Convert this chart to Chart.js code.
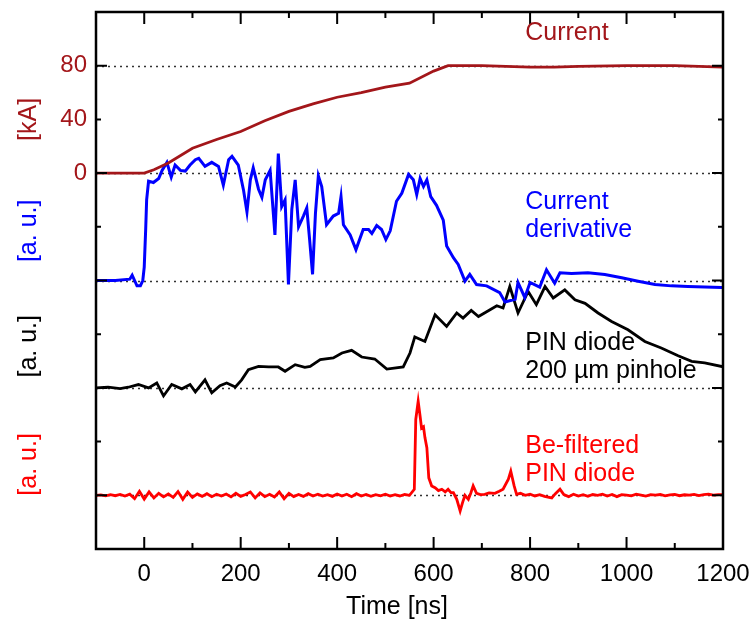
<!DOCTYPE html>
<html>
<head>
<meta charset="utf-8">
<script src="https://cdn.jsdelivr.net/npm/chart.js@4"></script>
<style>
  body { margin: 0; background: #fff; }
  #wrap { width: 755px; height: 628px; }
</style>
</head>
<body>
<div id="wrap"><canvas id="chartTraces"></canvas></div>
<script>
/* Current [kA] */
const currentTime = [-100, 0, 20, 50, 100, 150, 200, 250, 300, 350, 400, 450, 500, 550, 600, 630, 700, 750, 800, 850, 900, 1000, 1100, 1150, 1200];
const currentKA = [0, 0, 2.5, 7.5, 18.5, 25, 31, 39, 46, 51.5, 56.5, 60, 64, 67, 76, 80, 80, 79.5, 79, 79, 79.5, 80, 80, 79.5, 79];

/* Current derivative [a. u.] */
const derivTime = [
  -100, -60, -30, -25, -20, -15, -8, -3, 0, 3,
  5, 9, 19, 30, 37, 47, 56, 64, 75, 85,
  95, 106, 113, 126, 140, 154, 164, 175, 182, 195,
  206, 213, 220, 226, 237, 244, 251, 261, 271, 278,
  285, 292, 299, 306, 313, 320, 330, 337, 343, 349,
  355, 361, 368, 378, 392, 403, 408, 413, 427, 439,
  454, 465, 472, 482, 492, 501, 510, 523, 534, 548,
  558, 565, 572, 579, 586, 594, 606, 620, 627, 641,
  651, 665, 675, 689, 710, 737, 748, 769, 775, 789,
  800, 820, 834, 851, 862, 886, 920, 955, 990, 1024,
  1059, 1093, 1127, 1197, 1200];
const derivAU = [
  0, 0, 1, 4, 0, -4, -4, 0, 10, 38,
  60, 74, 73, 76, 82, 88, 77, 86, 82, 81.5,
  86, 90, 91, 85, 88, 85, 71, 90, 92.5, 86,
  67, 51, 75, 84, 68, 62, 75, 82, 34, 94.5,
  55, 60, -3, 53, 75, 40, 48, 54, 30, 4.5,
  50, 78, 70, 41.5, 48, 50, 62.5, 41.5, 34, 23,
  38, 38, 35, 41, 38, 30.5, 37, 59, 65, 79,
  75, 64, 76, 70, 75, 62.5, 56, 45, 25.7, 17,
  12, -0.5, 4.5, -3, -4, -9, -16, -14, -1.5, -12.6,
  -1.5, -5, 8, -2, 5.7, 5.2, 5.7, 4.5, 2, -0.5,
  -3, -4, -4.5, -5.3, -5.3];

/* PIN diode, 200 um pinhole [a. u.] */
const pinTime = [
  -100, -75, -50, -33, -12, 9, 26, 40, 57, 78,
  95, 106, 126, 140, 157, 171, 189, 202, 216, 237,
  258, 278, 292, 313, 333, 344, 365, 392, 410, 430,
  451, 478, 503, 537, 551, 561, 582, 603, 627, 648,
  661, 678, 693, 717, 731, 744, 758, 775, 796, 813,
  831, 848, 872, 893, 914, 941, 969, 1003, 1038, 1072,
  1107, 1135, 1162, 1197, 1200];
const pinAU = [
  0, 0.5, -0.5, 0.5, 2.5, 0, 3.7, -6, 2.5, -0.7,
  2.5, -3, 6, -3.7, 1.7, 3.7, 0.7, 6, 13.6, 16,
  15.6, 15.6, 12.4, 17.3, 15.3, 16, 21, 22.3, 26, 28,
  23, 21.5, 14, 15.6, 26, 38, 34.6, 54.5, 45.8, 55.8,
  52, 57.7, 53.2, 58.2, 61.2, 59.5, 75.5, 55.8, 71.8, 62,
  75.5, 67, 73, 65.6, 63, 55.8, 49.5, 43.3, 34.6, 29.7,
  24, 19.8, 18.6, 16, 16.5];

/* Be-filtered PIN diode [a. u.] */
const befTime = [
  -100, -90, -80, -70, -60, -50, -40, -30, -20, -10,
  0, 10, 20, 30, 40, 50, 60, 70, 80, 90,
  100, 110, 120, 130, 140, 150, 160, 170, 180, 190,
  200, 210, 220, 230, 240, 250, 260, 270, 280, 290,
  300, 310, 320, 330, 340, 350, 360, 370, 380, 390,
  400, 410, 420, 430, 440, 450, 460, 470, 480, 490,
  500, 510, 520, 530, 540, 550, 560, 563, 568, 572,
  575, 579, 582, 586, 590, 596, 603, 610, 617, 624,
  630, 636, 641, 648, 655, 660, 665, 672, 677, 682,
  689, 697, 706, 715, 727, 736, 744, 755, 760, 767,
  772, 780, 790, 800, 810, 820, 830, 845, 852, 862,
  870, 880, 890, 900, 910, 920, 930, 940, 950, 960,
  970, 980, 990, 1000, 1010, 1020, 1030, 1040, 1050, 1060,
  1070, 1080, 1090, 1100, 1110, 1120, 1130, 1140, 1150, 1160,
  1170, 1180, 1190, 1200];
const befAU = [
  0, 0.3, -0.4, 0.5, -0.3, 0.6, -0.5, 0.8, -2.5, 3,
  -2.8, 2.5, -2, 1.5, -1.2, 1, -1.5, 2.8, -3, 2.5,
  -1.5, 1, -0.8, 1.2, -1, 0.8, -0.6, 1, -1.2, 1.5,
  -0.8, 0.6, 2.5, -2, 1.8, -1, 0.8, -1.2, 2.5, -2.5,
  1.5, -1, 0.6, -0.8, 1.2, -0.5, 0.8, -0.6, 0.5, -0.8,
  1, -0.6, 0.8, -1, 1.2, -0.5, 0.6, -0.8, 0.5, -0.4,
  0.8, -0.6, 0.4, -0.5, 0.6, 0, 4.5, 56.5, 70, 59,
  50, 51, 43, 35.5, 13, 7, 5.7, 3.5, 4.5, 2.5,
  4.5, 2, 2, -3, -11.7, -5.4, 0, -3, 1.5, 7,
  1.5, 0.5, 0.7, 1.8, 1.5, 3, 4.5, 12, 18, 7,
  0.7, 1.5, 0, 0.8, -0.5, 0.5, -0.8, -2, 1, 4.5,
  0.5, -1, 0.8, -0.6, 0.5, -0.8, 0.6, 0, 0.8, -0.5,
  0.6, -1, 0.5, 0.2, -0.4, 0.8, 0.2, -0.6, 0.5, 0.1,
  0.6, -0.4, 0.3, 0.6, -0.3, 0.4, 0.2, 0.7, -0.2, 0.5,
  0.8, 0.2, 0.5, 0.5];

/* stacked traces: zero line of each trace on the common y axis */
const baselines = [0, -80, -160, -240];
const kATicks = [0, 40, 80];

const darkRed = '#a3161a';
const FONT = "'Liberation Sans', Arial, sans-serif";

const toPoints = (times, values, base) => times.map((t, i) => ({ x: t, y: values[i] + base }));

/* texts next to the traces (first line at t, v) */
const traceLabels = [
  { lines: ['Current'], color: darkRed, t: 790, v: 104 },
  { lines: ['Current', 'derivative'], color: '#0000ff', t: 790, v: -21.5 },
  { lines: ['PIN diode', '200 \u00b5m pinhole'], color: '#000000', t: 790, v: -127 },
  { lines: ['Be-filtered', 'PIN diode'], color: '#ff0000', t: 790, v: -203 },
];
const unitLabels = [
  { text: '[kA]', color: darkRed, v: 40 },
  { text: '[a. u.]', color: '#0000ff', v: -43 },
  { text: '[a. u.]', color: '#000000', v: -129 },
  { text: '[a. u.]', color: '#ff0000', v: -217 },
];

const framePlugin = {
  id: 'framePlugin',
  beforeDatasetsDraw(chart) {
    const { ctx, chartArea: a, scales: { y } } = chart;
    ctx.save();
    ctx.strokeStyle = '#333';
    ctx.lineWidth = 1.3;
    ctx.setLineDash([2, 4]);
    baselines.concat([80]).forEach((v) => {
      const py = Math.round(y.getPixelForValue(v)) + 0.5;
      ctx.beginPath();
      ctx.moveTo(a.left, py);
      ctx.lineTo(a.right, py);
      ctx.stroke();
    });
    ctx.restore();
  },
  afterDatasetsDraw(chart) {
    const { ctx, chartArea: a, scales: { x, y } } = chart;
    ctx.save();
    ctx.strokeStyle = '#000';
    ctx.lineWidth = 2;
    // ticks, pointing inwards on all four sides
    for (let t = -100; t <= 1200; t += 100) {
      const px = x.getPixelForValue(t);
      const len = t % 200 === 0 ? 12 : 6;
      ctx.beginPath();
      ctx.moveTo(px, a.bottom); ctx.lineTo(px, a.bottom - len);
      ctx.moveTo(px, a.top); ctx.lineTo(px, a.top + len);
      ctx.stroke();
    }
    for (let v = -280; v <= 120; v += 40) {
      const py = y.getPixelForValue(v);
      const len = v % 80 === 0 ? 11 : 5;
      ctx.beginPath();
      ctx.moveTo(a.left, py); ctx.lineTo(a.left + len, py);
      ctx.moveTo(a.right, py); ctx.lineTo(a.right - len, py);
      ctx.stroke();
    }
    ctx.lineWidth = 2.5;
    ctx.strokeRect(a.left, a.top, a.right - a.left, a.bottom - a.top);

    // trace names
    ctx.font = '25px ' + FONT;
    ctx.textAlign = 'left';
    ctx.textBaseline = 'middle';
    traceLabels.forEach((lb) => {
      ctx.fillStyle = lb.color;
      const px = x.getPixelForValue(lb.t);
      const py = y.getPixelForValue(lb.v);
      lb.lines.forEach((line, i) => ctx.fillText(line, px, py + i * 28));
    });

    // unit labels on the left, rotated
    ctx.textAlign = 'center';
    unitLabels.forEach((lb) => {
      ctx.save();
      ctx.translate(a.left - 67, y.getPixelForValue(lb.v));
      ctx.rotate(-Math.PI / 2);
      ctx.fillStyle = lb.color;
      ctx.fillText(lb.text, 0, 0);
      ctx.restore();
    });

    ctx.fillStyle = '#000';
    ctx.fillText('Time [ns]', 397, 607);
    ctx.restore();
  },
};

const line = (data, color, width) => ({
  data: data,
  borderColor: color,
  borderWidth: width,
  pointRadius: 0,
  tension: 0,
  fill: false,
});

const ctx = document.getElementById('chartTraces').getContext('2d');
const chartTraces = new Chart(ctx, {
  type: 'line',
  data: {
    datasets: [
      line(toPoints(currentTime, currentKA, baselines[0]), darkRed, 2.8),
      line(toPoints(derivTime, derivAU, baselines[1]), '#0000ff', 3),
      line(toPoints(pinTime, pinAU, baselines[2]), '#000000', 2.8),
      line(toPoints(befTime, befAU, baselines[3]), '#ff0000', 2.8),
    ],
  },
  options: {
    responsive: true,
    maintainAspectRatio: false,
    animation: false,
    layout: { padding: { top: 12, right: 32, left: 0, bottom: 0 } },
    plugins: {
      legend: { display: false },
      tooltip: { enabled: false },
    },
    scales: {
      x: {
        type: 'linear',
        min: -100,
        max: 1200,
        grid: { display: false, drawTicks: false },
        border: { display: false },
        ticks: {
          stepSize: 100,
          maxRotation: 0,
          autoSkip: false,
          padding: 11,
          color: '#000',
          font: { family: FONT, size: 24 },
          callback: (v) => (v % 200 === 0 ? v : ''),
        },
        afterFit: (scale) => {
          scale.height = 79;
          scale.paddingLeft = 0;
          scale.paddingRight = 0;
        },
      },
      y: {
        type: 'linear',
        min: -280,
        max: 120,
        grid: { display: false, drawTicks: false },
        border: { display: false },
        ticks: {
          stepSize: 40,
          autoSkip: false,
          padding: 9,
          color: darkRed,
          font: { family: FONT, size: 24 },
          callback: (v) => (kATicks.includes(v) ? v : ''),
        },
        afterFit: (scale) => {
          scale.width = 96;
          scale.paddingTop = 0;
          scale.paddingBottom = 0;
        },
      },
    },
  },
  plugins: [framePlugin],
});
</script>
</body>
</html>
